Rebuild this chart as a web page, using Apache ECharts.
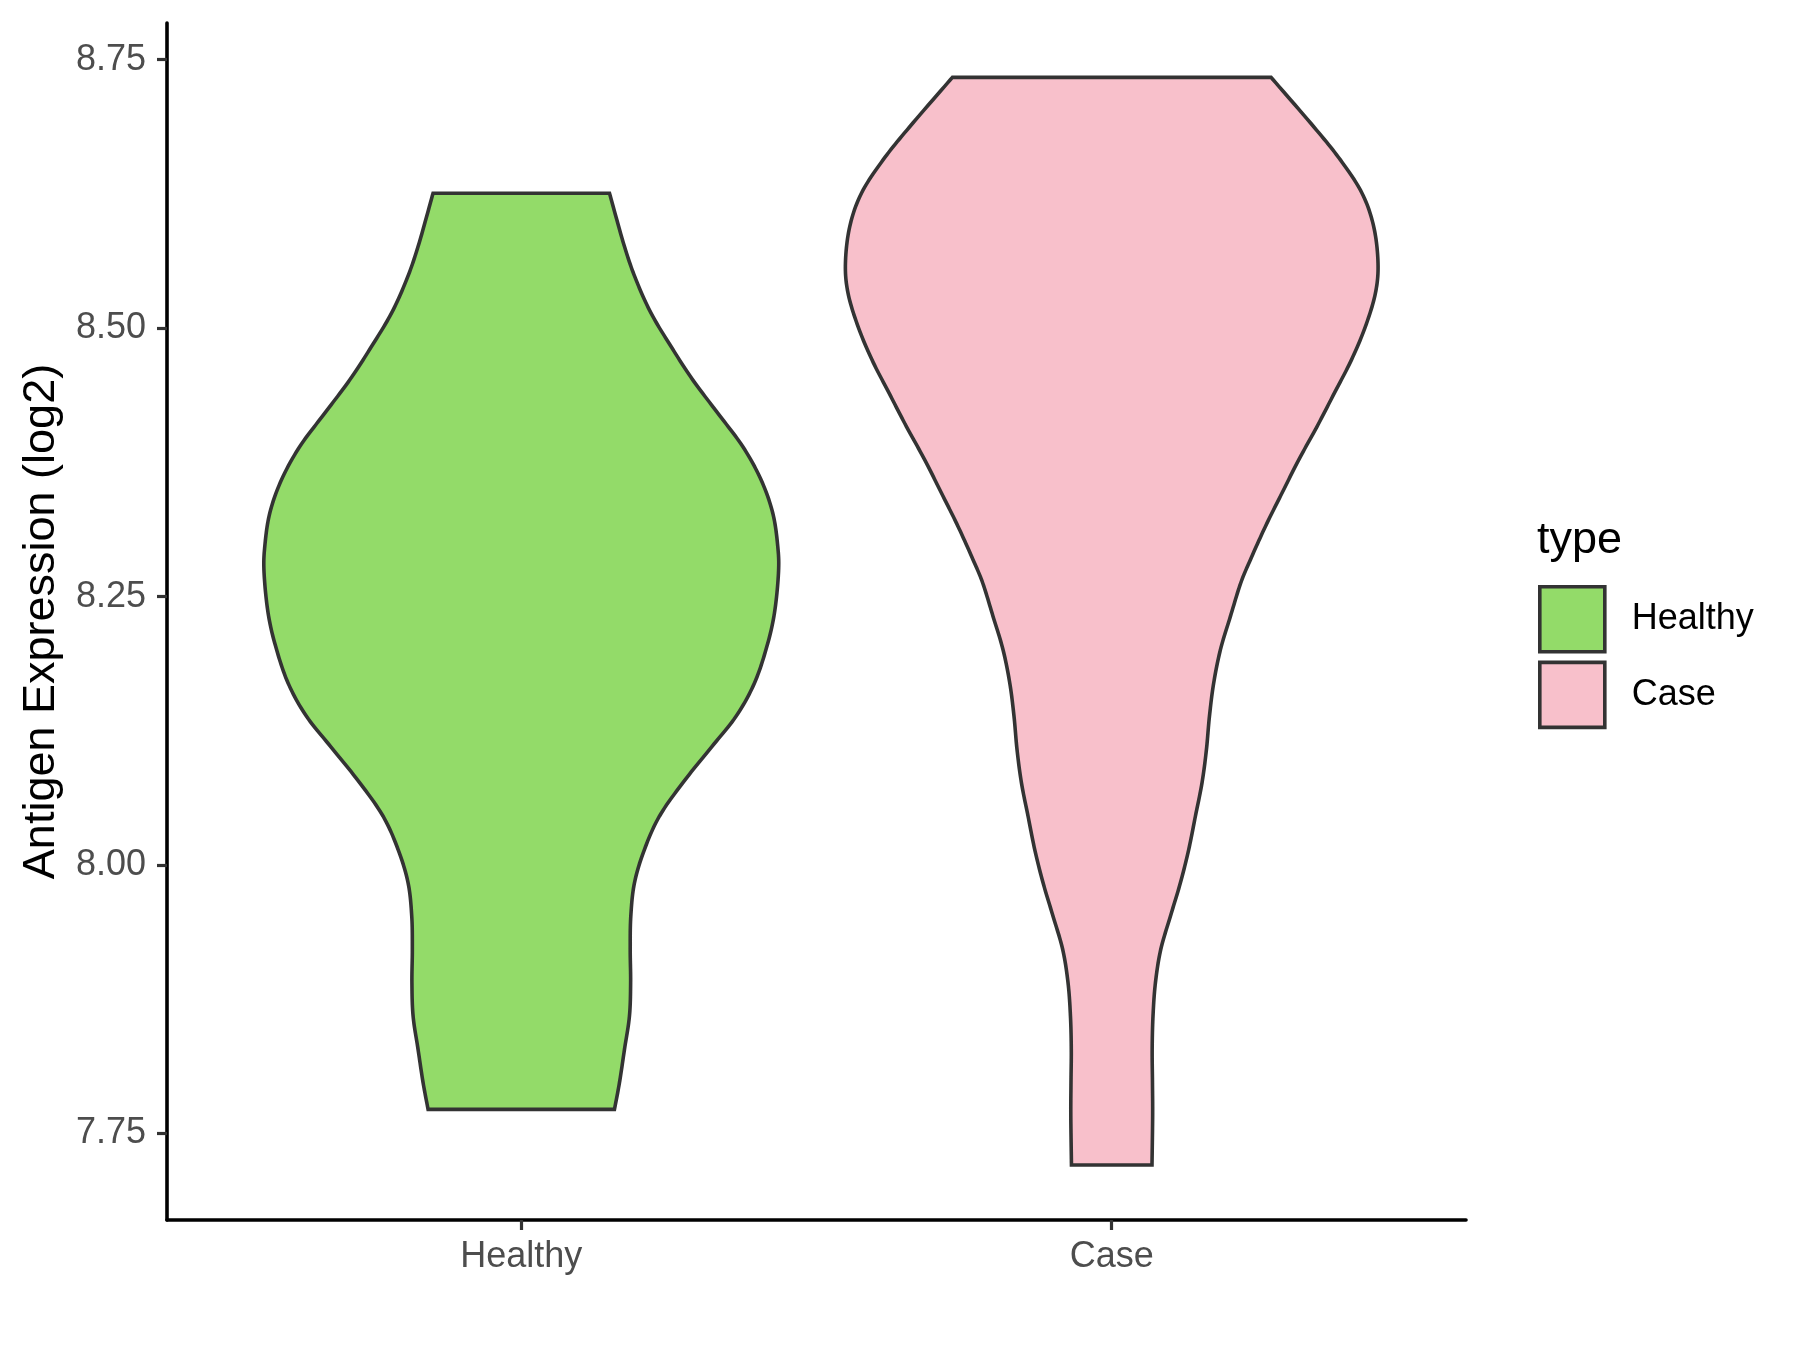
<!DOCTYPE html>
<html><head><meta charset="utf-8">
<script src="https://cdn.jsdelivr.net/npm/echarts@6/dist/echarts.min.js"></script>
<style>html,body{margin:0;padding:0;background:#fff}#c{width:1800px;height:1350px}</style>
</head><body><div id="c"></div>
<script>
// ---- data ----
const categories = ['Healthy', 'Case'];
const categoryPositions = [1, 2];
const yTicks = [7.75, 8.00, 8.25, 8.50, 8.75];

// violin outlines: expression value, half-width (in category units)
const healthyValues = [8.6257, 8.576, 8.545, 8.514, 8.4829, 8.4519, 8.4209, 8.3898, 8.3588, 8.3279, 8.2968, 8.2720, 8.2348, 8.2037, 8.1696, 8.1386, 8.1076, 8.0766, 8.0455, 8.0145, 7.9835, 7.9524, 7.9214, 7.8904, 7.8594, 7.8284, 7.7974, 7.7725];
const healthyHalfWidths = [0.1494, 0.1748, 0.1944, 0.2198, 0.2537, 0.2904, 0.3328, 0.3751, 0.4061, 0.4259, 0.4344, 0.4356, 0.4288, 0.4160, 0.3950, 0.3638, 0.3187, 0.2735, 0.2340, 0.2086, 0.1917, 0.1855, 0.1845, 0.1852, 0.1832, 0.1748, 0.1663, 0.1578];

const caseValues = [8.7336, 8.6876, 8.6567, 8.6257, 8.5946, 8.5605, 8.5326, 8.5015, 8.4705, 8.4395, 8.4084, 8.3774, 8.3465, 8.3154, 8.2844, 8.2627, 8.2316, 8.2006, 8.1696, 8.1386, 8.1076, 8.0766, 8.0455, 8.0145, 7.9835, 7.9524, 7.9214, 7.8904, 7.8594, 7.8284, 7.7974, 7.7664, 7.7207];
const caseHalfWidths = [0.2698, 0.3421, 0.3873, 0.4239, 0.4437, 0.4510, 0.4466, 0.4296, 0.4060, 0.3770, 0.3477, 0.3167, 0.2884, 0.2603, 0.2349, 0.2185, 0.2010, 0.1841, 0.1727, 0.1655, 0.1604, 0.1529, 0.1417, 0.1304, 0.1163, 0.0994, 0.0830, 0.0740, 0.0699, 0.0685, 0.0690, 0.0693, 0.0682];

const colors = ['#93DB69', '#F8C0CB'];

// ---- rendering ----
const STROKE = '#333333', LW = 3.6;
// Catmull-Rom curve through the projected outline points (drawing only)
function curveThrough(pts, steps) {
  const out = [];
  const n = pts.length;
  for (let i = 0; i < n - 1; i++) {
    const p0 = pts[Math.max(i - 1, 0)], p1 = pts[i], p2 = pts[i + 1], p3 = pts[Math.min(i + 2, n - 1)];
    for (let s = 0; s < steps; s++) {
      const t = s / steps, t2 = t * t, t3 = t2 * t;
      const f = k => 0.5 * ((2 * p1[k]) + (-p0[k] + p2[k]) * t + (2 * p0[k] - 5 * p1[k] + 4 * p2[k] - p3[k]) * t2 + (-p0[k] + 3 * p1[k] - 3 * p2[k] + p3[k]) * t3);
      out.push([f(0), f(1)]);
    }
  }
  out.push(pts[n - 1]);
  return out;
}
function violinRenderer(pos, vals, hws, fill) {
  return function (params, api) {
    const left = curveThrough(vals.map((v, i) => api.coord([pos - hws[i], v])), 12);
    const right = curveThrough(vals.map((v, i) => api.coord([pos + hws[i], v])), 12);
    const poly = left.concat(right.slice().reverse());
    return {
      type: 'polygon',
      shape: { points: poly },
      style: { fill: fill, stroke: STROKE, lineWidth: LW, lineJoin: 'miter' }
    };
  };
}

const chart = echarts.init(document.getElementById('c'), null, { renderer: 'canvas' });
chart.setOption({
  animation: false,
  backgroundColor: '#ffffff',
  textStyle: { fontFamily: 'Liberation Sans, Arial, sans-serif' },
  grid: { left: 167, right: 334, top: 23, bottom: 130, containLabel: false },
  xAxis: {
    type: 'value', min: 0.4, max: 2.6,
    splitLine: { show: false },
    axisLine: { show: true, onZero: false, lineStyle: { color: '#000', width: 3.6 } },
    axisTick: { show: true, customValues: categoryPositions, length: 10, lineStyle: { color: '#333', width: 3.2 } },
    axisLabel: { customValues: categoryPositions, formatter: v => categories[Math.round(v) - 1], fontSize: 36, color: '#4d4d4d', margin: 19 }
  },
  yAxis: {
    type: 'value', min: 7.6695, max: 8.7842,
    name: 'Antigen Expression (log2)', nameLocation: 'middle', nameGap: 103,
    nameTextStyle: { fontSize: 45, color: '#000' },
    splitLine: { show: false },
    axisLine: { show: true, onZero: false, lineStyle: { color: '#000', width: 3.6 } },
    axisTick: { show: true, customValues: yTicks, length: 10, lineStyle: { color: '#333', width: 3.2 } },
    axisLabel: { customValues: yTicks, formatter: v => v.toFixed(2), fontSize: 36, color: '#4d4d4d', margin: 21 }
  },
  legend: {
    orient: 'vertical', left: 1538, top: 585, padding: 0,
    itemWidth: 65, itemHeight: 65, itemGap: 7, icon: 'rect', selectedMode: false,
    data: categories,
    itemStyle: { borderColor: STROKE, borderWidth: LW },
    textStyle: { fontSize: 36, color: '#000', padding: [0, 0, 0, 22] }
  },
  graphic: [
    { type: 'text', x: 1537, y: 541, style: { text: 'type', fontSize: 45, fill: '#000', verticalAlign: 'middle', fontFamily: 'Liberation Sans, Arial, sans-serif' } }
  ],
  series: [
    { name: categories[0], type: 'custom', data: [[categoryPositions[0]]], itemStyle: { color: colors[0] }, clip: false,
      renderItem: violinRenderer(categoryPositions[0], healthyValues, healthyHalfWidths, colors[0]) },
    { name: categories[1], type: 'custom', data: [[categoryPositions[1]]], itemStyle: { color: colors[1] }, clip: false,
      renderItem: violinRenderer(categoryPositions[1], caseValues, caseHalfWidths, colors[1]) }
  ]
});
</script></body></html>
